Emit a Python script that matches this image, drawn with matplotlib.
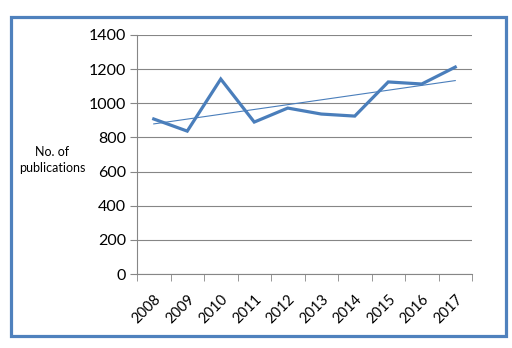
import matplotlib
matplotlib.use("Agg")
import matplotlib.pyplot as plt
import matplotlib.patches as patches
import numpy as np

# Данные
years = ['2008', '2009', '2010', '2011', '2012', '2013', '2014', '2015', '2016', '2017']
publications = [908, 837, 1142, 890, 972, 937, 925, 1125, 1113, 1212]
yticks = [0, 200, 400, 600, 800, 1000, 1200, 1400]

plt.rcParams['font.family'] = ['Lato', 'DejaVu Sans']

fig = plt.figure(figsize=(5.12, 3.48), dpi=100)
ax = fig.add_axes([137 / 512, 1 - 274 / 348, (472 - 137) / 512, (274 - 35) / 348])

x = np.arange(len(years))
line_color = '#4A7EBB'
grid_color = '#868686'

# Основная линия
ax.plot(x, publications, color=line_color, linewidth=2.3, solid_joinstyle='miter', zorder=3)

# Линейный тренд
k, b = np.polyfit(x, publications, 1)
ax.plot(x, k * x + b, color=line_color, linewidth=0.8, zorder=3)

ax.set_xlim(-0.5, len(years) - 0.5)
ax.set_ylim(0, 1400)
ax.set_yticks(yticks)
ax.set_yticklabels([str(v) for v in yticks], fontsize=11.5)

ax.set_xticks(x)
ax.set_xticklabels(years, rotation=45, ha='right', va='top', rotation_mode='anchor', fontsize=10.5)
ax.tick_params(axis='x', which='major', length=0, pad=13)
ax.set_xticks(np.arange(-0.5, len(years)), minor=True)
ax.tick_params(axis='x', which='minor', length=5, color=grid_color, direction='out')
ax.tick_params(axis='y', length=5, color=grid_color, direction='out', pad=3)

ax.grid(True, axis='y', color=grid_color, linewidth=0.8)
ax.set_axisbelow(True)
for side in ['top', 'right']:
    ax.spines[side].set_visible(False)
for side in ['left', 'bottom']:
    ax.spines[side].set_color(grid_color)
    ax.spines[side].set_linewidth(0.8)

fig.text(52 / 512, 1 - 160 / 348, 'No. of\npublications', ha='center', va='center',
         fontsize=9, linespacing=1.3)

# Рамка вокруг диаграммы
rect = patches.Rectangle((11 / 512, 1 - 336 / 348), (506 - 11) / 512, (336 - 17) / 348,
                         transform=fig.transFigure, fill=False, edgecolor='#4F81BD', linewidth=2.3)
fig.patches.append(rect)

fig.savefig('out.png', dpi=100)
